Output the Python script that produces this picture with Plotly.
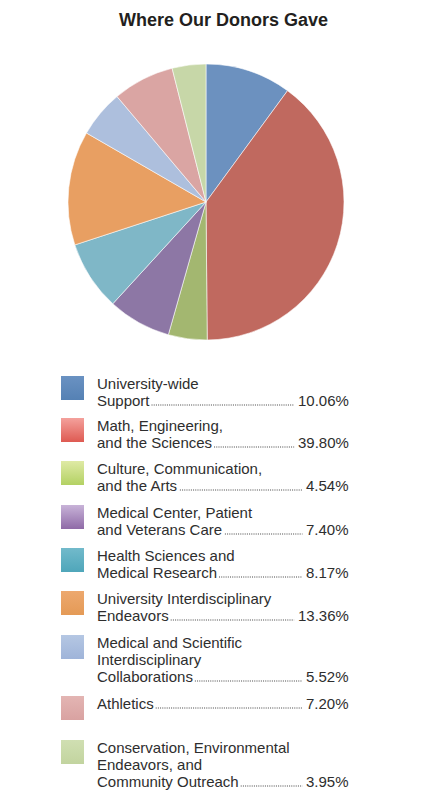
import plotly.graph_objects as go

# ---------------- data ----------------
categories = [
    "University-wide\nSupport",
    "Math, Engineering,\nand the Sciences",
    "Culture, Communication,\nand the Arts",
    "Medical Center, Patient\nand Veterans Care",
    "Health Sciences and\nMedical Research",
    "University Interdisciplinary\nEndeavors",
    "Medical and Scientific\nInterdisciplinary\nCollaborations",
    "Athletics",
    "Conservation, Environmental\nEndeavors, and\nCommunity Outreach",
]
values = [10.06, 39.80, 4.54, 7.40, 8.17, 13.36, 5.52, 7.20, 3.95]
title_text = "Where Our Donors Gave"

# ---------------- styles ----------------
slice_colors = ["#6c91bf", "#c0695f", "#a3b770", "#8d77a5", "#7fb7c7",
                "#e89f62", "#adbfdd", "#daa5a3", "#c7d7a8"]
swatch_top_colors = ["#6a92c2", "#f4a19c", "#dfeaa5", "#c8b3d8", "#72bacb",
                     "#eda86e", "#b5c7e3", "#e3b5b3", "#d0dfb2"]
swatch_bottom_colors = ["#5581b4", "#de5a52", "#b3d163", "#8f6aa7", "#4fa6ba",
                        "#e49a56", "#9fb4d9", "#d9a2a1", "#c2d49f"]

W, H = 425, 791
row_tops = [376, 418, 461, 505, 548, 591, 635, 696, 740]
SW_X0, SW_X1, SW_H = 61, 84, 24
TEXT_X = 95.5
VAL_RIGHT = 349.5
LINE_H = 17
FONT_SIZE = 15
TEXT_COLOR = "#2e2e2e"
FONT = "Liberation Sans, Arial, sans-serif"

# Arial / Liberation Sans advance widths (per 1000 em)
AW = {" ": 278, ".": 278, "%": 889, ",": 278, "-": 333,
      "a": 556, "b": 556, "c": 500, "d": 556, "e": 556, "f": 278, "g": 556,
      "h": 556, "i": 222, "j": 222, "k": 500, "l": 222, "m": 833, "n": 556,
      "o": 556, "p": 556, "q": 556, "r": 333, "s": 500, "t": 278, "u": 556,
      "v": 500, "w": 722, "x": 500, "y": 500, "z": 500,
      "A": 667, "C": 722, "E": 667, "M": 833, "O": 778, "R": 722, "S": 667,
      "U": 722, "V": 667, "H": 722, "I": 278}
for d in "0123456789":
    AW[d] = 556


def text_w(s):
    return sum(AW.get(ch, 556) for ch in s) * FONT_SIZE / 1000.0


fig = go.Figure()

# pie
fig.add_trace(go.Pie(
    labels=[c.replace("\n", " ") for c in categories],
    values=values,
    sort=False,
    direction="clockwise",
    rotation=0,
    marker=dict(colors=slice_colors, line=dict(color="rgba(255,255,255,0.8)", width=0.7)),
    textinfo="none",
    hoverinfo="label+percent",
    showlegend=False,
    domain=dict(x=[68 / W, 344 / W], y=[1 - 340 / H, 1 - 64 / H]),
))

annotations = []
shapes = []
for i, (cat, val) in enumerate(zip(categories, values)):
    top = row_tops[i]
    # swatch with vertical gradient
    fig.add_trace(go.Scatter(
        x=[SW_X0, SW_X1, SW_X1, SW_X0, SW_X0],
        y=[top, top, top + SW_H, top + SW_H, top],
        mode="lines", line=dict(width=0),
        fill="toself",
        fillgradient=dict(type="vertical",
                          colorscale=[[0, swatch_bottom_colors[i]], [1, swatch_top_colors[i]]]),
        hoverinfo="skip", showlegend=False,
    ))
    lines = cat.split("\n")
    base = top + 12.5
    for j, ln in enumerate(lines):
        bl = base + j * LINE_H
        annotations.append(dict(
            x=TEXT_X, y=bl - 5.2, xref="x", yref="y", text=ln, showarrow=False,
            xanchor="left", yanchor="middle",
            font=dict(family=FONT, size=FONT_SIZE, color=TEXT_COLOR),
            borderpad=0,
        ))
    last_bl = base + (len(lines) - 1) * LINE_H
    vtxt = f"{val:.2f}%"
    annotations.append(dict(
        x=VAL_RIGHT, y=last_bl - 5.2, xref="x", yref="y", text=vtxt, showarrow=False,
        xanchor="right", yanchor="middle",
        font=dict(family=FONT, size=FONT_SIZE, color=TEXT_COLOR),
        borderpad=0,
    ))
    x_start = TEXT_X + text_w(lines[-1]) + 3.5
    x_end = VAL_RIGHT - text_w(vtxt) - 4.5
    shapes.append(dict(
        type="line", xref="x", yref="y", x0=x_start, x1=x_end,
        y0=last_bl - 0.5, y1=last_bl - 0.5,
        line=dict(color="#444444", width=1, dash="1px,1.2px"),
    ))

# title
annotations.append(dict(
    x=223.5, y=20, xref="x", yref="y", text=f"<b>{title_text}</b>",
    showarrow=False, xanchor="center", yanchor="middle",
    font=dict(family="Liberation Sans, Arial, sans-serif", size=18, color="#231f20"),
))

fig.update_layout(
    width=W, height=H,
    margin=dict(l=0, r=0, t=0, b=0),
    paper_bgcolor="white", plot_bgcolor="white",
    xaxis=dict(range=[0, W], visible=False, fixedrange=True, domain=[0, 1]),
    yaxis=dict(range=[H, 0], visible=False, fixedrange=True, domain=[0, 1]),
    annotations=annotations,
    shapes=shapes,
    showlegend=False,
)

fig.write_html(
    "out.html",
    config={"displayModeBar": False},
    post_script="document.documentElement.style.margin='0';document.body.style.margin='0';document.body.style.overflow='hidden';",
)
